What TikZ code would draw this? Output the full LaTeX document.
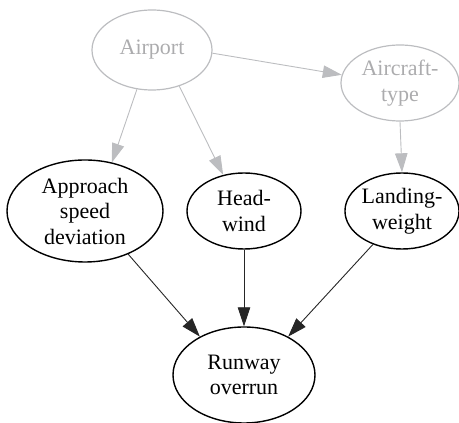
\documentclass[tikz,border=0pt]{standalone}
\usepackage{fontspec}
\setmainfont{Liberation Serif}
\newfontfamily\labelfont{Liberation Serif}
\usetikzlibrary{shapes.geometric,arrows.meta}
\definecolor{softgray}{RGB}{188,189,192}
\definecolor{softtext}{RGB}{172,172,174}
\tikzset{
  var/.style={ellipse, draw=black, line width=1.4pt, inner sep=0pt, align=center,
    font=\labelfont\fontsize{22}{25.5}\selectfont, text=black},
  faded/.style={var, draw=softgray, line width=1.2pt, text=softtext},
  link/.style={line width=0.9pt, draw=black!85, -{Triangle[length=19pt,width=12.5pt]}},
  fadedlink/.style={link, draw=softgray, -{Triangle[length=19pt,width=12.5pt,fill=softgray]}}
}
\begin{document}
\begin{tikzpicture}[x=1pt,y=1pt]
\useasboundingbox (0,0) rectangle (459,423);
% upper layer: context variables
\node[faded, minimum width=120pt, minimum height=80pt] (airport) at (152,373) {Airport};
\node[faded, minimum width=118pt, minimum height=76pt] (aircraft) at (400,340) {Aircraft-\\type};
% middle layer: direct causes
\node[var, minimum width=156pt, minimum height=102pt] (approach) at (85,212) {Approach\\speed\\deviation};
\node[var, minimum width=114pt, minimum height=76pt] (wind) at (244,212) {Head-\\wind};
\node[var, minimum width=112pt, minimum height=76pt] (weight) at (402,212) {Landing-\\weight};
% outcome
\node[var, minimum width=142pt, minimum height=96pt] (overrun) at (244,48) {Runway\\overrun};
% dependencies
\draw[fadedlink] (airport.249) -- (approach.61);
\draw[fadedlink] (airport.307) -- (wind.120);
\draw[fadedlink] (airport.357) -- (aircraft.172);
\draw[fadedlink] (aircraft.south) -- (weight.north);
\draw[link] (approach.315) -- (overrun.139);
\draw[link] (wind.south) -- (overrun.north);
\draw[link] (weight.229) -- (overrun.41.5);
\end{tikzpicture}
\end{document}
